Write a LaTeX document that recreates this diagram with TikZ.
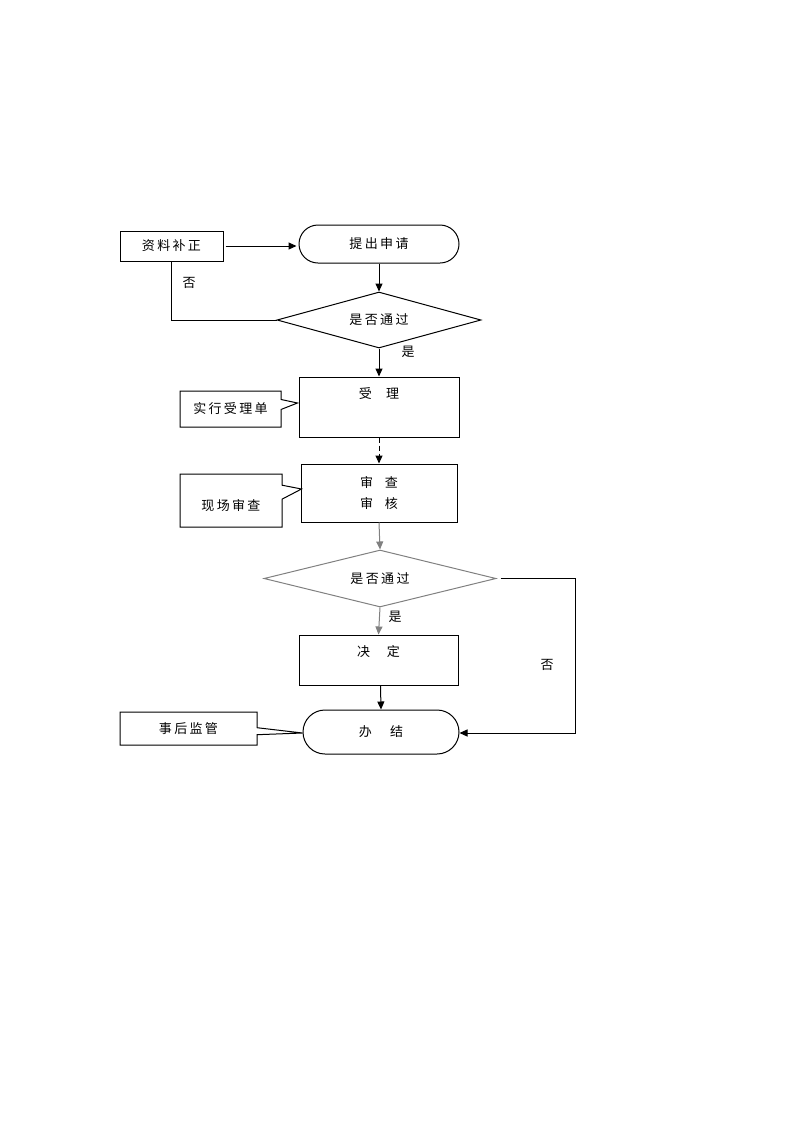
\documentclass[tikz,border=0pt]{standalone}
\usepackage{fontspec}
\setmainfont{Noto Sans CJK SC}[LetterSpace=18]
\usetikzlibrary{shapes.geometric,shapes.callouts,arrows.meta,calc}
\begin{document}
\begin{tikzpicture}[x=1pt,y=-1pt,
  every node/.style={font=\fontsize{13}{21}\selectfont, inner sep=0pt},
  box/.style={draw, line width=1pt, rectangle},
  stadium/.style={draw, line width=1pt, rectangle},
  decide/.style={draw, line width=1pt, diamond},
  note/.style={draw, line width=1pt, rectangle callout, fill=white},
  conn/.style={line width=1pt},
  arr/.style={line width=1pt, -{Triangle[length=8pt,width=7pt]}},
  lbl/.style={}
]
\useasboundingbox (0,0) rectangle (793,1122);
\definecolor{lg}{RGB}{128,128,128}

% main chain
\node[box, minimum width=103pt, minimum height=30pt] (z) at (171.5,246) {资料补正};
\node[stadium, rounded corners=19pt, minimum width=160pt, minimum height=38pt] (s) at (379,244) {提出申请};
\node[decide, shape aspect=3.6, minimum width=204pt, minimum height=56pt] (d1) at (379,320) {是否通过};
\node[box, minimum width=160pt, minimum height=60pt, text height=11pt, text depth=28pt] (sl) at (379,407) {受\hspace{1.1em}理};
\node[box, minimum width=156pt, minimum height=58pt, align=center] (sc) at (379,493) {审\hspace{0.9em}查\\审\hspace{0.9em}核};
\node[decide, draw=lg, shape aspect=4.07, minimum width=232pt, minimum height=57pt] (d2) at (380,578.5) {是否通过};
\node[box, minimum width=159pt, minimum height=50pt, text height=11pt, text depth=18pt] (jd) at (378.5,660) {决\hspace{1.3em}定};
\node[stadium, rounded corners=22pt, minimum width=156pt, minimum height=44pt] (bj) at (381,732) {办\hspace{1.4em}结};

% callouts
\coordinate (p1) at ($(sl.west)+(-1,-4)$);
\coordinate (p2) at ($(sc.west)+(1,-4)$);
\coordinate (p3) at ($(bj.west)+(0,1)$);
\node[note, minimum width=101pt, minimum height=36pt, callout absolute pointer={(p1)}, callout pointer width=10pt] (c1) at (230.5,409) {实行受理单};
\node[note, minimum width=102pt, minimum height=53pt, callout absolute pointer={(p2)}, callout pointer width=14pt, text height=21pt, text depth=2pt] (c2) at (231,500.5) {现场审查\hspace{16pt}};
\node[note, minimum width=137pt, minimum height=33pt, callout absolute pointer={(p3)}, callout pointer width=7pt] (c3) at (188.5,728.5) {事后监管};

% labels
\node[lbl] (n1) at (189,283) {否};
\node[lbl] (y1) at (408,352) {是};
\node[lbl] (y2) at (395,617) {是};
\node[lbl] (n2) at (547,665) {否};

% connectors
\draw[arr, shorten <=2pt, shorten >=2pt] (z.east) -- (z.east -| s.west);
\draw[arr] (s.south) -- (d1.north);
\draw[conn] (d1.west) -- (d1.west -| z.south) -- (z.south);
\draw[arr] (d1.south) -- (sl.north);
\draw[arr, dashed, dash pattern=on 5pt off 3pt] (sl.south) -- (sc.north);
\draw[arr, draw=lg, fill=lg] (sc.south) -- (d2.north);
\draw[arr, draw=lg] (d2.south) -- (jd.north);
\draw[arr] ([xshift=2pt]jd.south) -- ([xshift=0pt]bj.north);
\coordinate (k) at (575,733);
\draw[arr] ([xshift=4pt]d2.east) -| (k) -- (k -| bj.east);
\end{tikzpicture}
\end{document}
